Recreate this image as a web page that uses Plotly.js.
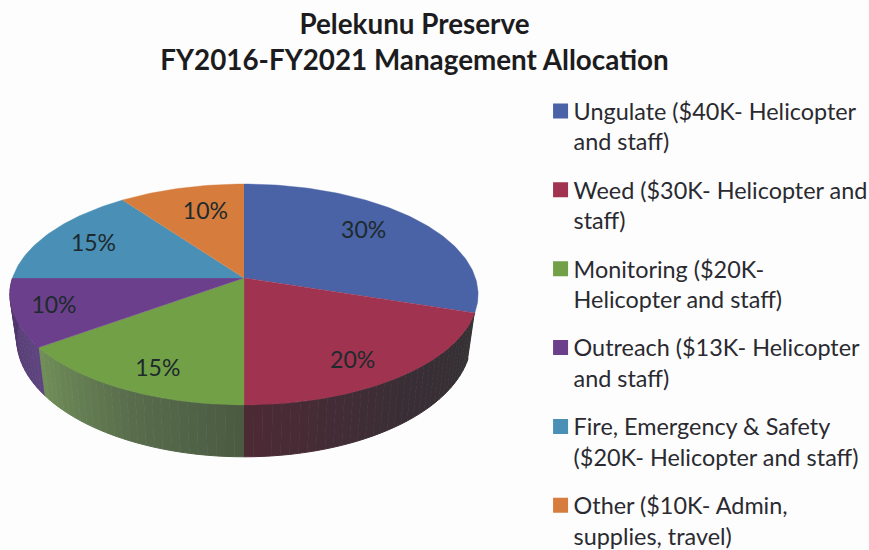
<!DOCTYPE html>
<html>
<head>
<meta charset="utf-8">
<script src="https://cdn.plot.ly/plotly-3.0.1.min.js"></script>
<style>html,body{margin:0;padding:0;background:#fdfdfd}</style>
</head>
<body>
<div id="chart" style="width:869px;height:550px"></div>
<script>
const categories = ['Ungulate ($40K- Helicopter<br>and staff)','Weed ($30K- Helicopter and<br>staff)','Monitoring ($20K-<br>Helicopter and staff)','Outreach ($13K- Helicopter<br>and staff)','Fire, Emergency &amp; Safety<br>($20K- Helicopter and staff)','Other ($10K- Admin,<br>supplies, travel)'];
const shares = [30,20,15,10,15,10];
const topColors = ['#4a62a6','#a03350','#72a046','#6c3f8c','#4a8fb5','#d67d3e'];
const sideShades = [[],[[51,48,51],[58,46,53],[76,42,53]],[[74,90,66],[90,111,77],[113,143,88]],[[95,69,128],[77,52,104]],[],[]];
const labelReach = [.715,.814,.825,.83,.753,.686];
const labelTurn = [-3.5,4.9,-3.4,0,-1.8,2.5];
const title = '<b>Pelekunu Preserve</b><br><b>FY2016-FY2021 Management Allocation</b>';

const tilt = .149, sideEnd = 270, lowX = .971, lowY = 1.07, lowDrop = 43/108, facet = 2;
const rad = d => d*Math.PI/180;
function rim(deg, r){ r = r===undefined?1:r; const u=r*Math.sin(rad(deg)), v=r*Math.cos(rad(deg)), w=1+tilt*v; return [u/w, v/w]; }
function low(deg){ const p=rim(deg); return [p[0]*lowX, p[1]*lowY-lowDrop]; }
function arc(a,b,fn){ const o=[], n=Math.max(2,Math.ceil(Math.abs(b-a))); for(let i=0;i<=n;i++) o.push(fn(a+(b-a)*i/n)); return o; }
function shade(stops,t){ const f=t*(stops.length-1), k=Math.min(Math.floor(f),stops.length-2), g=f-k; const c=stops[k].map((v,j)=>Math.round(v+(stops[k+1][j]-v)*g)); return 'rgb('+c.join(',')+')'; }

const total = shares.reduce((a,b)=>a+b,0);
let run = 0;
const spans = shares.map(s=>{ const a=run/total*360; run+=s; return [a,run/total*360]; });
const traces = [];
spans.forEach((sp,i)=>{
  const stops = sideShades[i]; if(!stops.length) return;
  const a = sp[0], b = Math.min(sp[1],sideEnd), n = Math.ceil((b-a)/facet);
  for(let k=0;k<n;k++){
    const s=a+(b-a)*k/n, e=a+(b-a)*(k+1)/n, c=shade(stops,(k+.5)/n);
    const pts = arc(s,e,rim).concat(arc(e,s,low));
    traces.push({type:'scatter',mode:'lines',x:pts.map(p=>p[0]),y:pts.map(p=>p[1]),fill:'toself',fillcolor:c,line:{color:c,width:1},showlegend:false,hoverinfo:'skip'});
  }
});
spans.forEach((sp,i)=>{
  const pts = [[0,0]].concat(arc(sp[0],sp[1],rim));
  traces.push({type:'scatter',mode:'lines',x:pts.map(p=>p[0]),y:pts.map(p=>p[1]),fill:'toself',fillcolor:topColors[i],line:{color:topColors[i],width:.4},showlegend:false,hoverinfo:'skip'});
});
const lab = spans.map((sp,i)=>rim((sp[0]+sp[1])/2+labelTurn[i],labelReach[i]));
traces.push({type:'scatter',mode:'text',x:lab.map(p=>p[0]),y:lab.map(p=>p[1]),text:shares.map(s=>s+'%'),textposition:'middle center',textfont:{family:'Lato, "Open Sans", sans-serif',size:23,color:'#1d2a2c'},showlegend:false,hoverinfo:'skip'});
categories.forEach((c,i)=>{
  traces.push({type:'scatter',mode:'markers',x:[null],y:[null],name:c,legendgroup:'g'+i,marker:{symbol:'square',size:15,color:topColors[i]}});
});
const layout = {
  width:869,height:550,autosize:false,
  margin:{l:0,r:0,t:0,b:0,autoexpand:false},
  paper_bgcolor:'#fdfdfd',plot_bgcolor:'#fdfdfd',
  xaxis:{visible:false,range:[-244/231.5,625/231.5],fixedrange:true},
  yaxis:{visible:false,range:[-272/108,278/108],fixedrange:true},
  title:{text:title,x:.477,xanchor:'center',y:.9385,yanchor:'top',font:{family:'Lato, sans-serif',size:27.8,color:'#1c1c20'}},
  legend:{x:.614,xanchor:'left',y:.838,yanchor:'top',bgcolor:'rgba(0,0,0,0)',tracegroupgap:15,font:{family:'Lato, sans-serif',size:23.4,color:'#2a2a30'},itemclick:false,itemdoubleclick:false},
  showlegend:true
};
Plotly.newPlot('chart',traces,layout,{displayModeBar:false,staticPlot:true}).then(()=>{
  document.querySelectorAll('#chart .legend .legendpoints').forEach(g=>g.setAttribute('transform','translate(7,-15)'));
});
</script>
</body>
</html>
